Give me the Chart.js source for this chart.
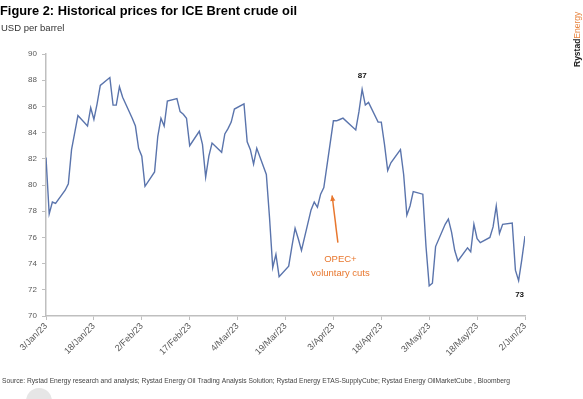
<!DOCTYPE html>
<html>
<head>
<meta charset="utf-8">
<script src="https://cdn.jsdelivr.net/npm/chart.js@4.4.0/dist/chart.umd.min.js"></script>
<style>
  html, body { margin: 0; padding: 0; background: #fff; }
  #wrap { position: relative; width: 583px; height: 399px; overflow: hidden; }
</style>
</head>
<body onload="handleOnLoad()">
<div id="wrap"><canvas id="myChart" width="583" height="399"></canvas></div>
<script>
// ICE Brent daily settlements, Jan-Jun 2023
const dates = [
  '2023-01-03','2023-01-04','2023-01-05','2023-01-06','2023-01-09','2023-01-10','2023-01-11','2023-01-12','2023-01-13',
  '2023-01-16','2023-01-17','2023-01-18','2023-01-19','2023-01-20','2023-01-23','2023-01-24','2023-01-25','2023-01-26',
  '2023-01-27','2023-01-30','2023-01-31','2023-02-01','2023-02-02','2023-02-03','2023-02-06','2023-02-07','2023-02-08',
  '2023-02-09','2023-02-10','2023-02-13','2023-02-14','2023-02-15','2023-02-16','2023-02-17','2023-02-20','2023-02-21',
  '2023-02-22','2023-02-23','2023-02-24','2023-02-27','2023-02-28','2023-03-01','2023-03-02','2023-03-03','2023-03-06',
  '2023-03-07','2023-03-08','2023-03-09','2023-03-10','2023-03-13','2023-03-14','2023-03-15','2023-03-16','2023-03-17',
  '2023-03-20','2023-03-21','2023-03-22','2023-03-23','2023-03-24','2023-03-27','2023-03-28','2023-03-29','2023-03-30',
  '2023-03-31','2023-04-03','2023-04-04','2023-04-05','2023-04-06','2023-04-10','2023-04-11','2023-04-12','2023-04-13',
  '2023-04-14','2023-04-17','2023-04-18','2023-04-19','2023-04-20','2023-04-21','2023-04-24','2023-04-25','2023-04-26',
  '2023-04-27','2023-04-28','2023-05-01','2023-05-02','2023-05-03','2023-05-04','2023-05-05','2023-05-08','2023-05-09',
  '2023-05-10','2023-05-11','2023-05-12','2023-05-15','2023-05-16','2023-05-17','2023-05-18','2023-05-19','2023-05-22',
  '2023-05-23','2023-05-24','2023-05-25','2023-05-26','2023-05-29','2023-05-30','2023-05-31','2023-06-01','2023-06-02'
]
const prices = [
  82.1, 77.8, 78.7, 78.6, 79.6, 80.1, 82.7, 84.0, 85.3,
  84.5, 85.9, 85.0, 86.2, 87.6, 88.2, 86.1, 86.1, 87.5,
  86.7, 85.1, 84.5, 82.8, 82.2, 79.9, 81.0, 83.7, 85.1,
  84.5, 86.4, 86.6, 85.6, 85.4, 85.1, 83.0, 84.1, 83.1,
  80.6, 82.2, 83.2, 82.5, 83.9, 84.3, 84.8, 85.8, 86.2,
  83.3, 82.7, 81.6, 82.8, 80.8, 77.5, 73.7, 74.7, 73.0,
  73.8, 75.3, 76.7, 75.9, 75.0, 78.1, 78.7, 78.3, 79.3,
  79.8, 84.9, 84.9, 85.0, 85.1, 84.2, 85.6, 87.3, 86.1,
  86.3, 84.8, 84.8, 83.1, 81.1, 81.7, 82.7, 80.8, 77.7,
  78.4, 79.5, 79.3, 75.3, 72.3, 72.5, 75.3, 77.0, 77.4,
  76.4, 75.0, 74.2, 75.2, 74.9, 77.0, 75.9, 75.6, 76.0,
  76.8, 78.4, 76.3, 77.0, 77.1, 73.5, 72.7, 74.3, 76.1
]
const tickLabels = ['3/Jan/23','18/Jan/23','2/Feb/23','17/Feb/23','4/Mar/23','19/Mar/23',
                    '3/Apr/23','18/Apr/23','3/May/23','18/May/23','2/Jun/23']

const title = 'Figure 2: Historical prices for ICE Brent crude oil'
const unitLabel = 'USD per barrel'
const source = 'Source: Rystad Energy research and analysis; Rystad Energy Oil Trading Analysis Solution; Rystad Energy ETAS-SupplyCube; Rystad Energy OilMarketCube , Bloomberg'
const peakNote = { date: '2023-04-12', text: '87' }
const lowNote = { date: '2023-05-31', text: '73' }
const opecNote = ['OPEC+', 'voluntary cuts']

const font = '"Liberation Sans", Arial, sans-serif'
const startDay = Date.UTC(2023, 0, 3)

function dayOf(d){
  const p = d.split('-')
  return (Date.UTC(+p[0], +p[1] - 1, +p[2]) - startDay) / 86400000
}

const notesPlugin = {
  id: 'notes',
  afterDraw(chart){
    const ctx = chart.ctx
    const xs = chart.scales.x
    const ys = chart.scales.y
    ctx.save()

    // title + unit
    ctx.textAlign = 'left'
    ctx.textBaseline = 'alphabetic'
    ctx.fillStyle = '#000'
    ctx.font = 'bold 13px ' + font
    ctx.fillText(title, 0, 15, 297)
    ctx.fillStyle = '#333'
    ctx.font = '9.5px ' + font
    ctx.fillText(unitLabel, 1, 31, 72)

    // source line
    ctx.fillStyle = '#444'
    ctx.font = '6.8px ' + font
    ctx.textBaseline = 'middle'
    ctx.fillText(source, 2, 381, 508)

    // value labels at the April high and May low
    ctx.fillStyle = '#111'
    ctx.font = 'bold 8px ' + font
    ctx.textAlign = 'center'
    let i = dates.indexOf(peakNote.date)
    ctx.fillText(peakNote.text, xs.getPixelForValue(dayOf(peakNote.date)), ys.getPixelForValue(prices[i]) - 14)
    i = dates.indexOf(lowNote.date)
    ctx.fillText(lowNote.text, xs.getPixelForValue(dayOf(lowNote.date)) + 1, ys.getPixelForValue(prices[i]) + 14)

    // OPEC+ arrow and text
    const orange = '#E8772E'
    const tx = xs.getPixelForValue(91.4), ty = ys.getPixelForValue(75.6)
    const hx = xs.getPixelForValue(89.6), hy = ys.getPixelForValue(79.2)
    ctx.strokeStyle = orange
    ctx.fillStyle = orange
    ctx.lineWidth = 1.5
    ctx.beginPath()
    ctx.moveTo(tx, ty)
    ctx.lineTo(hx, hy)
    ctx.stroke()
    const ang = Math.atan2(hy - ty, hx - tx)
    ctx.beginPath()
    ctx.moveTo(hx, hy)
    ctx.lineTo(hx - 6 * Math.cos(ang - 0.45), hy - 6 * Math.sin(ang - 0.45))
    ctx.lineTo(hx - 6 * Math.cos(ang + 0.45), hy - 6 * Math.sin(ang + 0.45))
    ctx.closePath()
    ctx.fill()
    ctx.font = '9.5px ' + font
    const cx = xs.getPixelForValue(92.2)
    const cy = ys.getPixelForValue(74.35)
    ctx.fillText(opecNote[0], cx, cy)
    ctx.fillText(opecNote[1], cx, cy + 14)

    // vertical logo at top right
    ctx.translate(578, 67)
    ctx.rotate(-Math.PI / 2)
    ctx.textAlign = 'left'
    ctx.font = 'bold 8.5px ' + font
    ctx.fillStyle = '#222'
    ctx.fillText('Rystad', 0, 0)
    const w = ctx.measureText('Rystad').width
    ctx.font = '8.5px ' + font
    ctx.fillStyle = '#E8843F'
    ctx.fillText('Energy', w, 0)
    ctx.restore()

    // grey blob bottom left
    ctx.save()
    ctx.fillStyle = '#E6E6E6'
    ctx.beginPath()
    ctx.arc(39, 401, 13, 0, Math.PI * 2)
    ctx.fill()
    ctx.restore()
  }
}

function handleOnLoad(){
  CreateBrentChart()
}

function CreateBrentChart(){
  const points = dates.map(function(d, i){
    return { x: dayOf(d), y: prices[i] }
  })

  const ctx = document.getElementById('myChart').getContext('2d')
  const myChart = new Chart(ctx, {
    type: 'line',
    data: {
      datasets: [{
        label: 'ICE Brent',
        data: points,
        borderColor: '#5A74AC',
        borderWidth: 1.4,
        pointRadius: 0,
        tension: 0,
        fill: false
      }]
    },
    options: {
      responsive: false,
      animation: false,
      layout: {
        padding: { top: 54, right: 58, left: 0, bottom: 0 }
      },
      plugins: {
        legend: { display: false },
        tooltip: { enabled: false }
      },
      scales: {
        x: {
          type: 'linear',
          min: 0,
          max: 150,
          afterFit: function(scale){ scale.height = 83 },
          ticks: {
            stepSize: 15,
            autoSkip: false,
            minRotation: 45,
            maxRotation: 45,
            padding: 1,
            color: '#595959',
            font: { family: font, size: 9 },
            callback: function(v){ return tickLabels[Math.round(v / 15)] }
          },
          grid: { drawOnChartArea: false, tickLength: 4, color: '#BFBFBF' },
          border: { color: '#BFBFBF', width: 1.5 }
        },
        y: {
          min: 70,
          max: 90,
          afterFit: function(scale){ scale.width = 46 },
          ticks: {
            stepSize: 2,
            padding: 5,
            color: '#595959',
            font: { family: font, size: 8 }
          },
          grid: { drawOnChartArea: false, tickLength: 4, color: '#BFBFBF' },
          border: { color: '#BFBFBF', width: 1.5 }
        }
      }
    },
    plugins: [notesPlugin]
  })
}
</script>
</body>
</html>
